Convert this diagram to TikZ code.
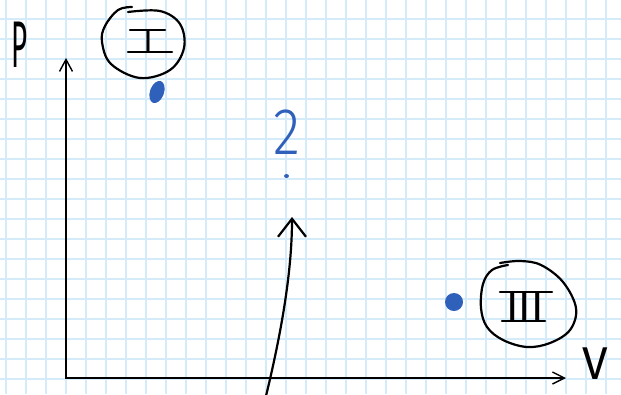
\documentclass[tikz,border=0pt]{standalone}
\usepackage{fontspec}
\usepackage{graphicx}
\newfontfamily\handfont{Fira Sans Light}
\newfontfamily\handbold{Fira Sans}
\usetikzlibrary{arrows.meta,shapes.geometric}
\definecolor{gridblue}{RGB}{212,235,250}
\definecolor{dotblue}{RGB}{47,96,186}
\begin{document}
\begin{tikzpicture}[x=1pt,y=-1pt,
  gridline/.style={gridblue,line width=1.3pt},
  axisline/.style={black,line width=1.4pt},
  ink/.style={black,line width=2.2pt,line cap=round,line join=round},
  hand/.style={inner sep=0pt,outer sep=0pt},
  blob/.style={ellipse,fill=dotblue,inner sep=0pt,draw=none}]
\useasboundingbox (0,0) rectangle (621,394);
\fill[white] (0,0) rectangle (621,394);
\foreach \i in {0,...,30} \draw[gridline] ({6+20*\i},0) -- ({6+20*\i},394);
\foreach \j in {0,...,19} \draw[gridline] (0,{-1+20*\j}) -- (621,{-1+20*\j});
% axes
\coordinate (O) at (66,378);
\coordinate (ytip) at (66,58);
\coordinate (xtip) at (566,378);
\draw[axisline,{Straight Barb[length=12pt,width=13pt]}-{Straight Barb[length=12pt,width=12pt]}] (ytip) -- (O) -- (xtip);
% axis labels
\node[hand,font=\handbold\fontsize{66}{66}\selectfont] (Plab) at (20,45) {\scalebox{0.42}[1]{P}};
\node[hand,font=\handbold\fontsize{46}{46}\selectfont] (Vlab) at (595,364) {V};
% state I
\node[hand,font=\handbold\fontsize{32}{32}\selectfont] (numI) at (148,41) {I};
\draw[ink] ([xshift=-18pt]numI.north) -- ([xshift=17pt]numI.north);
\draw[ink] ([xshift=-20pt]numI.south) -- ([xshift=24pt]numI.south);
\draw[ink] plot[smooth,tension=0.6] coordinates {(132,7) (118,10) (105,26) (102,42) (111,64) (140,78) (170,70) (184,48) (180,24) (160,11) (128,12)};
\node[blob,minimum width=14pt,minimum height=23pt,rotate=-20] (stateI) at (157,92) {};
% state 2
\node[hand,text=dotblue,font=\handfont\fontsize{66}{66}\selectfont] (lab2) at (287,132) {\scalebox{0.85}[1]{2}};
\node[blob,minimum width=5pt,minimum height=4pt] (state2) at (286.5,176) {};
% state III
\node[blob,minimum size=18pt] (stateIII) at (454,302) {};
\node[hand,font=\handbold\fontsize{42}{42}\selectfont] (numIII) at (525,306.5) {III};
\draw[ink] ([xshift=-25pt]numIII.north) -- ([xshift=27pt]numIII.north);
\draw[ink] ([xshift=-23pt]numIII.south) -- ([xshift=20pt]numIII.south);
\draw[ink] plot[smooth,tension=0.6] coordinates {(500,263) (520,261) (541,265) (563,282) (576,308) (570,330) (550,343) (527,347) (503,340) (487,327) (481,308) (483,284) (492,270) (508,265)};
% arrow
\coordinate (arrfrom) at (266,396);
\coordinate (arrto) at (292,217);
\draw[ink,-{Straight Barb[length=18pt,width=28pt]}] (arrfrom) .. controls (282,330) and (292,270) .. (arrto);
\end{tikzpicture}
\end{document}
